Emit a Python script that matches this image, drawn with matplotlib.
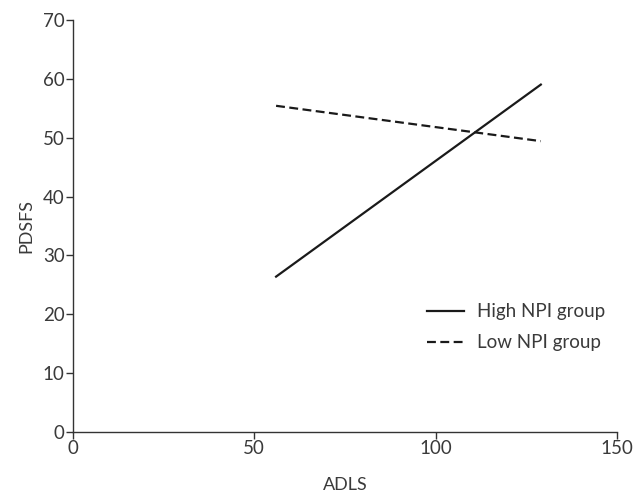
import matplotlib
matplotlib.use("Agg")
import matplotlib.pyplot as plt

# valeurs
adls = [56, 129]
high_npi = [26.4, 59.0]
low_npi = [55.4, 49.4]
series_labels = ["High NPI group", "Low NPI group"]

plt.rcParams['font.family'] = ['Lato', 'DejaVu Sans']
text_col = '#3a3a3a'
fs = 13.5

fig = plt.figure(figsize=(6.33, 4.95), dpi=100)
ax = fig.add_axes([0.1153, 0.127, 0.8594, 0.833])

ax.plot(adls, high_npi, color='#1a1a1a', lw=1.6, label=series_labels[0])
ax.plot(adls, low_npi, color='#1a1a1a', lw=1.6, dashes=(4, 2), label=series_labels[1])

ax.set_xlim(0, 150)
ax.set_ylim(0, 70)
ax.set_xticks([0, 50, 100, 150])
ax.set_yticks(range(0, 71, 10))

for s in ['top', 'right']:
    ax.spines[s].set_visible(False)
for s in ['left', 'bottom']:
    ax.spines[s].set_color('#333333')
    ax.spines[s].set_linewidth(1.0)
ax.tick_params(direction='out', length=5, width=1.0, colors='#333333',
               labelsize=fs, labelcolor=text_col, pad=1)

ax.set_xlabel('ADLS', fontsize=fs - 0.5, color=text_col, labelpad=14)
ax.set_ylabel('PDSFS', fontsize=fs - 0.5, color=text_col, labelpad=6)

ax.legend(loc='lower right', bbox_to_anchor=(1.01, 0.155), frameon=False,
          fontsize=fs, handlelength=2.0, labelspacing=0.75, handletextpad=0.7,
          labelcolor=text_col)

fig.savefig('out.png', dpi=100)
